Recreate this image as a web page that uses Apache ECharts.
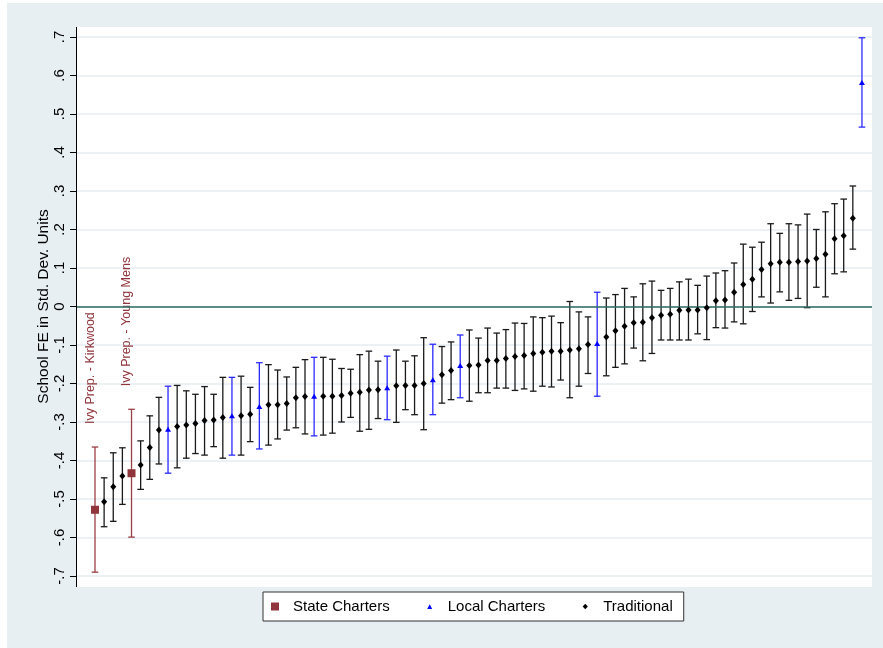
<!DOCTYPE html>
<html>
<head>
<meta charset="utf-8">
<script src="https://cdn.jsdelivr.net/npm/echarts@6/dist/echarts.min.js"></script>
<style>html,body{margin:0;padding:0;background:#fff;}#c{width:883px;height:648px;}</style>
</head>
<body>
<div id="c"></div>
<script>
// School fixed effects (std. dev. units), ranked
const estimates = [
-0.528,-0.507,-0.468,-0.440,-0.433,-0.412,-0.366,-0.321,-0.319,-0.312,
-0.308,-0.304,-0.296,-0.295,-0.288,-0.284,-0.284,-0.280,-0.260,-0.255,
-0.255,-0.252,-0.237,-0.234,-0.233,-0.233,-0.233,-0.231,-0.225,-0.223,
-0.217,-0.216,-0.211,-0.206,-0.205,-0.205,-0.200,-0.190,-0.177,-0.166,
-0.153,-0.153,-0.152,-0.140,-0.140,-0.135,-0.130,-0.127,-0.122,-0.119,
-0.116,-0.116,-0.113,-0.110,-0.099,-0.096,-0.079,-0.063,-0.051,-0.042,
-0.041,-0.029,-0.023,-0.020,-0.010,-0.009,-0.009,-0.003,0.015,0.017,
0.037,0.057,0.071,0.096,0.111,0.115,0.115,0.117,0.118,0.125,
0.136,0.176,0.184,0.229,0.582];
const ciHigh = [
-0.365,-0.445,-0.380,-0.367,-0.267,-0.349,-0.284,-0.236,-0.207,-0.205,
-0.219,-0.228,-0.208,-0.228,-0.184,-0.184,-0.181,-0.210,-0.146,-0.151,
-0.165,-0.183,-0.158,-0.138,-0.132,-0.132,-0.137,-0.161,-0.163,-0.125,
-0.116,-0.142,-0.129,-0.113,-0.142,-0.128,-0.081,-0.098,-0.104,-0.092,
-0.074,-0.061,-0.082,-0.056,-0.069,-0.060,-0.043,-0.044,-0.027,-0.029,
-0.025,-0.042,0.013,-0.014,-0.027,0.037,0.022,0.031,0.047,0.025,
0.059,0.066,0.042,0.047,0.064,0.071,0.055,0.079,0.087,0.093,
0.113,0.162,0.154,0.167,0.215,0.190,0.215,0.212,0.240,0.200,
0.246,0.267,0.279,0.313,0.698];
const ciLow = [
-0.690,-0.572,-0.558,-0.514,-0.599,-0.475,-0.449,-0.409,-0.433,-0.419,
-0.394,-0.382,-0.386,-0.364,-0.394,-0.386,-0.386,-0.351,-0.370,-0.360,
-0.344,-0.321,-0.315,-0.331,-0.336,-0.334,-0.329,-0.300,-0.288,-0.324,
-0.319,-0.291,-0.294,-0.301,-0.268,-0.281,-0.320,-0.281,-0.251,-0.242,
-0.237,-0.246,-0.224,-0.224,-0.212,-0.212,-0.218,-0.214,-0.220,-0.207,
-0.209,-0.191,-0.237,-0.207,-0.174,-0.233,-0.180,-0.158,-0.149,-0.108,
-0.141,-0.122,-0.087,-0.087,-0.087,-0.087,-0.071,-0.086,-0.055,-0.056,
-0.040,-0.045,-0.013,0.025,0.009,0.038,0.016,0.021,-0.003,0.050,
0.025,0.085,0.090,0.149,0.466];
// sector of each ranked school
const stateCharterRanks = [0, 4];
const localCharterRanks = [8, 15, 18, 24, 32, 37, 40, 55, 84];
// labelled schools
const labelRanks = [0, 4];
const labelTexts = ['Ivy Prep. - Kirkwood', 'Ivy Prep. - Young Mens'];
const legendNames = ['State Charters', 'Local Charters', 'Traditional'];

const FONT = '"Liberation Sans", Arial, Helvetica, sans-serif';
const C_STATE = '#90353b', C_LOCAL = '#0000ff', C_TRAD = '#000000';

function sectorOf(i){
  if (stateCharterRanks.indexOf(i) >= 0) return 'S';
  if (localCharterRanks.indexOf(i) >= 0) return 'L';
  return 'T';
}
const pts = {S:[], L:[], T:[]}, bars = {S:[], L:[], T:[]};
estimates.forEach((v, i) => {
  const s = sectorOf(i);
  pts[s].push([i, v]);
  bars[s].push([i, ciLow[i], ciHigh[i]]);
});

function makeErr(color, barColor, withLabels){
  return function(params, api){
    const x = api.value(0), lo = api.value(1), hi = api.value(2);
    const pLo = api.coord([x, lo]), pHi = api.coord([x, hi]);
    const hw = 3.3;
    const st = {stroke: barColor, lineWidth: 1.3};
    const children = [
      {type:'line', shape:{x1:pLo[0], y1:pLo[1], x2:pHi[0], y2:pHi[1]}, style: st},
      {type:'line', shape:{x1:pHi[0]-hw, y1:pHi[1], x2:pHi[0]+hw, y2:pHi[1]}, style: st},
      {type:'line', shape:{x1:pLo[0]-hw, y1:pLo[1], x2:pLo[0]+hw, y2:pLo[1]}, style: st}
    ];
    if (withLabels) {
      const k = labelRanks.indexOf(x);
      if (k >= 0) {
        children.push({type:'text', x: pHi[0]-4.5, y: pHi[1]-23, rotation: Math.PI/2,
          style:{text: labelTexts[k], fill: color, font: '12.5px ' + FONT, align:'left', verticalAlign:'middle'}});
      }
    }
    return {type:'group', children: children};
  };
}

const chart = echarts.init(document.getElementById('c'), null, {renderer:'canvas'});
const sqPath = 'path://M0,0L8,0L8,8L0,8Z';
const triPath = 'path://M0,0M8,8M1.5,6.6L4,1.8L6.5,6.6Z';
const diaPath = 'path://M0,0M8,8M4,1.3L6.6,4L4,6.7L1.4,4Z';
chart.setOption({
  animation: false,
  backgroundColor: '#ffffff',
  textStyle: {fontFamily: FONT},
  graphic: [
    {type:'rect', shape:{x:7, y:3, width:876, height:645}, style:{fill:'#e8eff2'}, z:-20, silent:true},
    {type:'rect', shape:{x:76, y:27, width:796, height:560}, style:{fill:'#ffffff'}, z:-10, silent:true},
    {type:'line', shape:{x1:76.5, y1:27, x2:76.5, y2:587}, style:{stroke:'#000', lineWidth:1}, z:50, silent:true}
  ],
  grid: {left:76, right:11, top:37, bottom:72, containLabel:false},
  xAxis: {type:'value', min:-2.08, max:85.1, show:false},
  yAxis: {
    type:'value', min:-0.7, max:0.7, interval:0.1,
    axisLine:{show:false, onZero:false},
    axisTick:{show:true, length:6, lineStyle:{color:'#000', width:1}},
    axisLabel:{rotate:90, fontSize:15, color:'#000', margin:9, fontFamily: FONT,
      formatter: v => { const s = (Math.round(v*10)/10).toFixed(1); if (s === '0.0' || s === '-0.0') return '0'; return s.replace('0.', '.'); }},
    splitLine:{show:true, lineStyle:{color:'#e5edf0', width:1.5}},
    name:'School FE in Std. Dev. Units', nameLocation:'middle', nameRotate:90, nameGap:24,
    nameMoveOverlap:false,
    nameTextStyle:{fontSize:15.5, color:'#000', fontFamily: FONT}
  },
  legend: {
    data: [
      {name: legendNames[0], icon: sqPath},
      {name: legendNames[1], icon: triPath},
      {name: legendNames[2], icon: diaPath}
    ],
    left: 263, top: 592, orient:'horizontal',
    itemWidth: 26, itemHeight: 8, itemGap: 36,
    padding: [7, 11, 7, 8],
    backgroundColor:'#ffffff', borderColor:'#333333', borderWidth:1, borderRadius:0,
    textStyle:{fontSize:15, color:'#000', fontFamily: FONT},
    selectedMode:false
  },
  series: [
    {type:'custom', name:'ci-trad', renderItem: makeErr(C_TRAD, '#1a1a1a', false), data: bars.T, encode:{x:0, y:[1,2]}, z:3, silent:true},
    {type:'custom', name:'ci-local', renderItem: makeErr(C_LOCAL, '#2a2aff', false), data: bars.L, encode:{x:0, y:[1,2]}, z:3, silent:true},
    {type:'custom', name:'ci-state', renderItem: makeErr(C_STATE, '#9a3f45', true), data: bars.S, encode:{x:0, y:[1,2]}, z:3, silent:true},
    {type:'scatter', name: legendNames[0], data: pts.S, symbol:'rect', symbolSize:8, itemStyle:{color:C_STATE, opacity:1}, z:5,
      markLine:{silent:true, symbol:'none', label:{show:false}, lineStyle:{color:'#2b6b60', width:1.6, type:'solid'}, data:[{yAxis:0}], z:4}},
    {type:'scatter', name: legendNames[1], data: pts.L, symbol:'triangle', symbolSize:[6,5], itemStyle:{color:C_LOCAL, opacity:1}, z:5},
    {type:'scatter', name: legendNames[2], data: pts.T, symbol:'diamond', symbolSize:[6,7], itemStyle:{color:C_TRAD, opacity:1}, z:5}
  ]
});
</script>
</body>
</html>
